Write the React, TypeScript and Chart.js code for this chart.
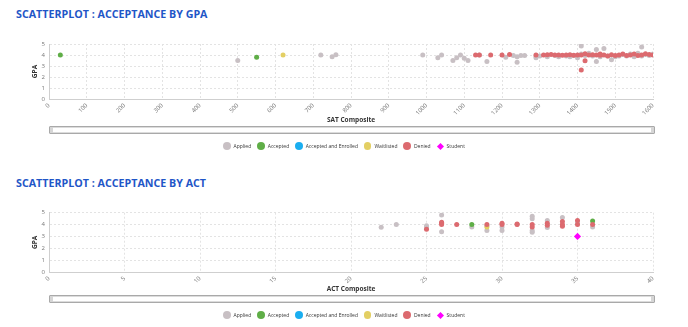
import React, { useEffect, useRef } from "react";
import { Chart, registerables } from "chart.js";

Chart.register(...registerables);

const FONT = "'Open Sans', 'Noto Sans', sans-serif";

type Pt = [number, number];

// Series names and colours (legend order)
const seriesNames = ["Applied", "Accepted", "Accepted and Enrolled", "Waitlisted", "Denied", "Student"];
const seriesColors = ["#c8c0c4", "#5fae47", "#1aaef0", "#e3cf63", "#dc6a6f", "#ff00ff"];
const seriesShapes = ["circle", "circle", "circle", "circle", "circle", "rectRot"];
const seriesOrder = [5, 2, 3, 3, 1, 0];

// ---------- Chart 1: SAT Composite vs GPA ----------
const satTicks = { min: 0, max: 1600, step: 100 };

const satApplied: Pt[] = [
  [500, 3.5], [720, 4.0], [750, 3.85], [760, 4.03], [990, 4.0], [1030, 3.75], [1040, 4.0],
  [1070, 3.5], [1080, 3.75], [1090, 4.0], [1100, 3.7], [1110, 3.5], [1140, 4.0], [1160, 3.4],
  [1210, 3.8], [1230, 3.95], [1240, 3.85], [1240, 3.35], [1250, 3.95], [1260, 3.95],
  [1290, 3.9], [1290, 3.75], [1300, 3.9], [1320, 3.85], [1340, 3.95], [1350, 3.85],
  [1370, 3.9], [1380, 3.85], [1390, 3.95], [1400, 3.75], [1410, 4.82], [1410, 4.1],
  [1420, 3.95], [1430, 4.15], [1440, 3.9], [1450, 4.5], [1450, 3.4], [1460, 3.85],
  [1470, 4.6], [1480, 3.9], [1490, 3.56], [1500, 3.85], [1510, 3.9], [1520, 4.05],
  [1530, 3.9], [1540, 4.1], [1550, 3.85], [1560, 4.15], [1570, 4.73], [1570, 3.9],
  [1580, 4.05], [1590, 3.95], [1600, 4.1],
];
const satAccepted: Pt[] = [[30, 4.0], [550, 3.8]];
const satEnrolled: Pt[] = [];
const satWaitlisted: Pt[] = [[620, 4.0]];
const satDenied: Pt[] = [
  [1130, 4.0], [1140, 4.0], [1170, 4.0], [1200, 4.0], [1220, 4.05], [1290, 4.0], [1310, 4.0],
  [1320, 4.02], [1330, 4.05], [1340, 4.0], [1350, 4.0], [1360, 3.98], [1370, 4.0], [1380, 4.02],
  [1390, 3.98], [1400, 4.0], [1410, 2.64], [1410, 4.0], [1420, 4.12], [1420, 3.48], [1430, 4.0],
  [1440, 4.02], [1450, 4.0], [1460, 3.98], [1460, 4.1], [1470, 4.0], [1480, 3.9], [1490, 4.02],
  [1500, 3.95], [1510, 4.0], [1520, 4.08], [1530, 3.95], [1540, 4.0], [1550, 4.1], [1560, 3.95],
  [1570, 4.0], [1580, 4.12], [1590, 4.05], [1600, 4.0],
];
const satStudent: Pt[] = [];

// ---------- Chart 2: ACT Composite vs GPA ----------
const actTicks = { min: 0, max: 40, step: 5 };

const actApplied: Pt[] = [
  [22, 3.78], [23, 4.0], [25, 3.9], [25, 3.75], [26, 4.8], [26, 3.4], [28, 3.8], [29, 3.5],
  [29, 3.9], [30, 3.8], [30, 3.5], [32, 4.7], [32, 4.5], [32, 3.5], [32, 3.35], [33, 4.35],
  [33, 3.75], [34, 4.6], [35, 4.15], [36, 3.8],
];
const actAccepted: Pt[] = [[28, 4.0], [36, 4.3]];
const actEnrolled: Pt[] = [];
const actWaitlisted: Pt[] = [[29, 3.8]];
const actDenied: Pt[] = [
  [25, 3.6], [26, 4.2], [26, 4.1], [26, 4.0], [27, 4.0], [29, 4.0], [30, 4.0], [30, 4.1],
  [31, 4.0], [31, 4.05], [32, 4.0], [32, 3.8], [33, 4.1], [33, 3.95], [34, 4.25], [34, 4.0],
  [34, 3.85], [35, 4.35], [35, 4.0], [36, 4.0],
];
const actStudent: Pt[] = [[35, 3.0]];

const gpaTicks = { min: 0, max: 5, step: 1 };

const TICK_COLOR = "#777";
const GRID_COLOR = "#e3e3e3";
const AXIS_COLOR = "#cfcfcf";

type PanelProps = {
  top: number;
  title: string;
  xTitle: string;
  xTicks: { min: number; max: number; step: number };
  data: Pt[][];
  padTop: number;
  xAxisHeight: number;
};

function Panel(props: PanelProps) {
  const ref = useRef<HTMLCanvasElement>(null);
  useEffect(() => {
    if (!ref.current) return;
    const datasets = seriesNames.map((name, i) => ({
      label: name,
      data: props.data[i].map(([x, y]) => ({ x, y })),
      backgroundColor: seriesColors[i],
      borderColor: seriesColors[i],
      borderWidth: 0,
      pointRadius: seriesShapes[i] === "rectRot" ? 3.6 : 2.5,
      pointStyle: seriesShapes[i] as any,
      order: seriesOrder[i],
    }));
    const chart = new Chart(ref.current, {
      type: "scatter",
      data: { datasets },
      options: {
        animation: false,
        responsive: false,
        maintainAspectRatio: false,
        devicePixelRatio: 1,
        layout: { padding: { left: 0, right: 35, top: props.padTop, bottom: 0 } },
        plugins: { legend: { display: false }, tooltip: { enabled: false } },
        scales: {
          x: {
            type: "linear",
            min: props.xTicks.min,
            max: props.xTicks.max,
            afterFit: (s: any) => {
              s.height = props.xAxisHeight;
            },
            ticks: {
              stepSize: props.xTicks.step,
              minRotation: 45,
              maxRotation: 45,
              padding: 3,
              color: TICK_COLOR,
              font: { family: FONT, size: 6 },
              callback: (v: any) => String(v),
            },
            grid: { color: GRID_COLOR, drawTicks: false },
            border: { color: AXIS_COLOR, dash: [2, 2] },
            title: {
              display: true,
              text: props.xTitle,
              color: "#333",
              font: { family: FONT, size: 6.5, weight: "bold" },
              padding: { top: 0, bottom: 6 },
            },
          },
          y: {
            type: "linear",
            min: gpaTicks.min,
            max: gpaTicks.max,
            afterFit: (s: any) => {
              s.width = 49;
            },
            ticks: {
              stepSize: gpaTicks.step,
              padding: 4,
              color: TICK_COLOR,
              font: { family: FONT, size: 6 },
            },
            grid: { color: GRID_COLOR, drawTicks: false },
            border: { color: AXIS_COLOR, dash: [2, 2] },
            title: {
              display: true,
              text: "GPA",
              color: "#333",
              font: { family: FONT, size: 6.5, weight: "bold" },
              padding: { top: 31, bottom: 0 },
            },
          },
        },
      },
    } as any);
    return () => chart.destroy();
  }, []);

  const t = props.top;
  return (
    <>
      <div
        style={{
          position: "absolute",
          left: 16,
          top: t + 6,
          height: 16,
          lineHeight: "16px",
          fontFamily: FONT,
          fontWeight: 700,
          fontSize: 10.7,
          color: "#1f56c7",
          whiteSpace: "nowrap",
        }}
      >
        {props.title}
      </div>
      <canvas
        ref={ref}
        width={688}
        height={100}
        style={{ position: "absolute", left: 0, top: t + 30, width: 688, height: 100, display: "block" }}
      />
      <div
        style={{
          position: "absolute",
          left: 49,
          top: t + 126,
          width: 604,
          height: 6,
          border: "1px solid #a9a9a9",
          borderRadius: 1,
          background: "#fff",
          boxShadow: "inset 0 0 0 1px #dcdcdc",
        }}
      >
        <div style={{ position: "absolute", left: 0, top: 0, width: 3, height: 6, background: "#d6d6d6" }} />
        <div style={{ position: "absolute", right: 0, top: 0, width: 3, height: 6, background: "#d6d6d6" }} />
      </div>
      <div
        style={{
          position: "absolute",
          left: 0,
          width: 688,
          top: t + 141,
          height: 10,
          display: "flex",
          justifyContent: "center",
          alignItems: "center",
          fontFamily: FONT,
          fontSize: 5,
          color: "#333",
        }}
      >
        {seriesNames.map((name, i) => (
          <div key={name} style={{ display: "flex", alignItems: "center", marginLeft: i === 0 ? 0 : 6 }}>
            {seriesShapes[i] === "rectRot" ? (
              <div
                style={{
                  width: 5,
                  height: 5,
                  margin: "0 1px",
                  background: seriesColors[i],
                  transform: "rotate(45deg)",
                }}
              />
            ) : (
              <div style={{ width: 7.5, height: 7.5, borderRadius: 4, background: seriesColors[i] }} />
            )}
            <span style={{ marginLeft: 3 }}>{name}</span>
          </div>
        ))}
      </div>
    </>
  );
}

export default function App() {
  return (
    <div style={{ position: "absolute", left: 0, top: 0, width: 688, height: 327, background: "#fff", overflow: "hidden" }}>
      <Panel
        top={0}
        title="SCATTERPLOT : ACCEPTANCE BY GPA"
        xTitle="SAT Composite"
        xTicks={satTicks}
        data={[satApplied, satAccepted, satEnrolled, satWaitlisted, satDenied, satStudent]}
        padTop={14}
        xAxisHeight={31}
      />
      <Panel
        top={169}
        title="SCATTERPLOT : ACCEPTANCE BY ACT"
        xTitle="ACT Composite"
        xTicks={actTicks}
        data={[actApplied, actAccepted, actEnrolled, actWaitlisted, actDenied, actStudent]}
        padTop={13.7}
        xAxisHeight={27}
      />
    </div>
  );
}
